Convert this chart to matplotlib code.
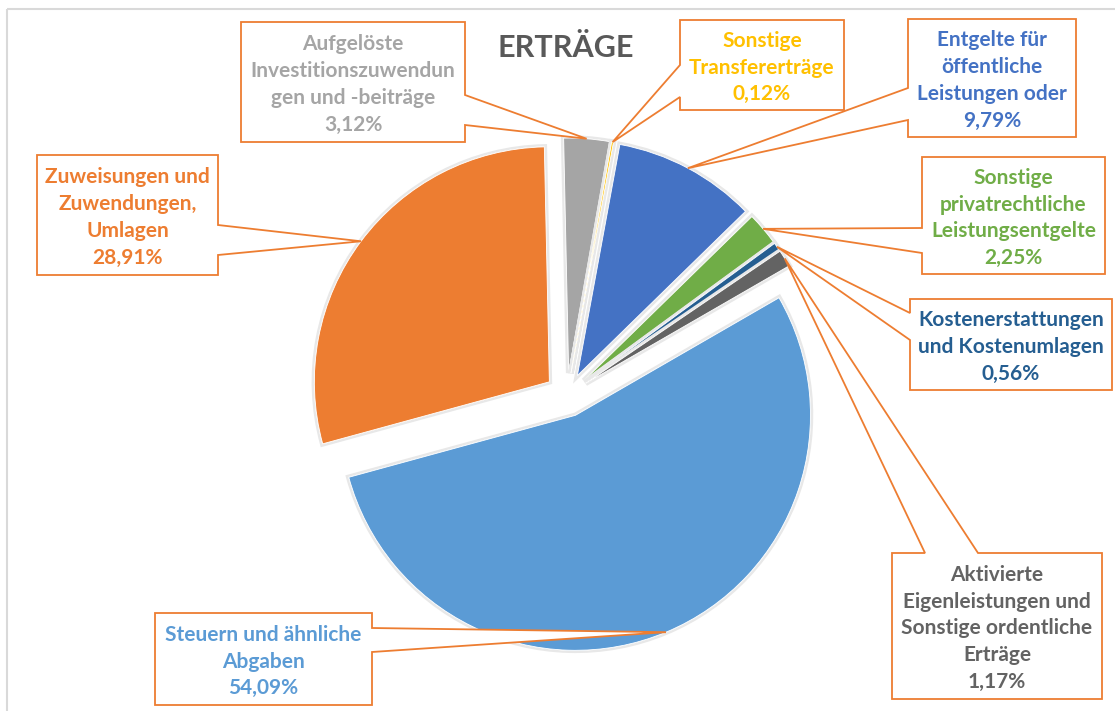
import matplotlib
matplotlib.use("Agg")
import matplotlib.pyplot as plt
from matplotlib.patches import Polygon, Rectangle
import matplotlib.patheffects as pe
import numpy as np

# ---- data ----
categories = [
    "Steuern und ähnliche\nAbgaben",
    "Zuweisungen und\nZuwendungen,\nUmlagen",
    "Aufgelöste\nInvestitionszuwendun\ngen und -beiträge",
    "Sonstige\nTransfererträge",
    "Entgelte für\nöffentliche\nLeistungen oder",
    "Sonstige\nprivatrechtliche\nLeistungsentgelte",
    "Kostenerstattungen\nund Kostenumlagen",
    "Aktivierte\nEigenleistungen und\nSonstige ordentliche\nErträge",
]
values = [54.09, 28.91, 3.12, 0.12, 9.79, 2.25, 0.56, 1.17]
value_labels = ["54,09%", "28,91%", "3,12%", "0,12%", "9,79%", "2,25%", "0,56%", "1,17%"]
colors = ["#5B9BD5", "#ED7D31", "#A5A5A5", "#FFC000", "#4472C4", "#70AD47", "#255E91", "#636363"]
title = "ERTRÄGE"

W, H = 1115, 711
fig = plt.figure(figsize=(W / 100, H / 100), dpi=100)
ax = fig.add_axes([0, 0, 1, 1])

FONT = "Lato"
ORANGE = "#ED7D31"

wedges, _ = ax.pie(values, colors=colors, startangle=-30, counterclock=True,
                   explode=[22] * len(values), radius=235, center=(567, 395),
                   wedgeprops=dict(edgecolor="white", linewidth=0.6), frame=True)
ax.set_xlim(0, W)
ax.set_ylim(H, 0)
ax.set_aspect("equal")
ax.axis("off")

# chart border
ax.add_patch(Rectangle((7, 9), 1300, 900, fill=False, edgecolor="#D9D9D9", lw=1.5, zorder=0))

for w in wedges:
    w.set_zorder(2)
    w.set_path_effects([pe.withStroke(linewidth=4, foreground="#E8E8E8"), pe.Normal()])

# layout of callouts: box (l, t, r, b), wedge side and base positions
boxes = [
    ((155, 613, 372, 705), "right", (628, 652)),
    ((37, 155, 218, 275), "right", (225, 255)),
    ((241, 22, 465, 142), "right", (95, 125)),
    ((680, 20, 844, 110), "left", (65, 97)),
    ((908, 19, 1076, 137), "left", (88, 120)),
    ((922, 157, 1105, 274), "left", (228, 253)),
    ((910, 299, 1112, 390), "left", (313, 340)),
    ((892, 553, 1102, 699), "top", (925, 978)),
]


def callout_verts(l, t, r, b, side, a0, a1, tip):
    if side == "right":
        return [(l, t), (r, t), (r, a0), tip, (r, a1), (r, b), (l, b)]
    if side == "left":
        return [(l, t), (r, t), (r, b), (l, b), (l, a1), tip, (l, a0)]
    return [(l, t), (a0, t), tip, (a1, t), (r, t), (r, b), (l, b)]


order = [0, 1, 2, 3, 4, 5, 7, 6]
for k, i in enumerate(order):
    w = wedges[i]
    (l, t, r, b), side, (a0, a1) = boxes[i]
    mid = np.deg2rad((w.theta1 + w.theta2) / 2)
    tip = (w.center[0] + w.r * np.cos(mid), w.center[1] + w.r * np.sin(mid))
    poly = Polygon(callout_verts(l, t, r, b, side, a0, a1, tip), closed=True,
                   facecolor="white", edgecolor=ORANGE, lw=1.3, zorder=5 + k)
    ax.add_patch(poly)
    ax.text((l + r) / 2, (t + b) / 2 + 2.5, categories[i] + "\n" + value_labels[i],
            ha="center", va="center", color=colors[i], fontsize=15,
            fontweight="bold", family=FONT, linespacing=1.42, zorder=20)

ax.text(566, 48, title, ha="center", va="center", fontsize=22, fontweight="bold",
        color="#595959", family=FONT, zorder=20)

fig.savefig("out.png", dpi=100, facecolor="white")
